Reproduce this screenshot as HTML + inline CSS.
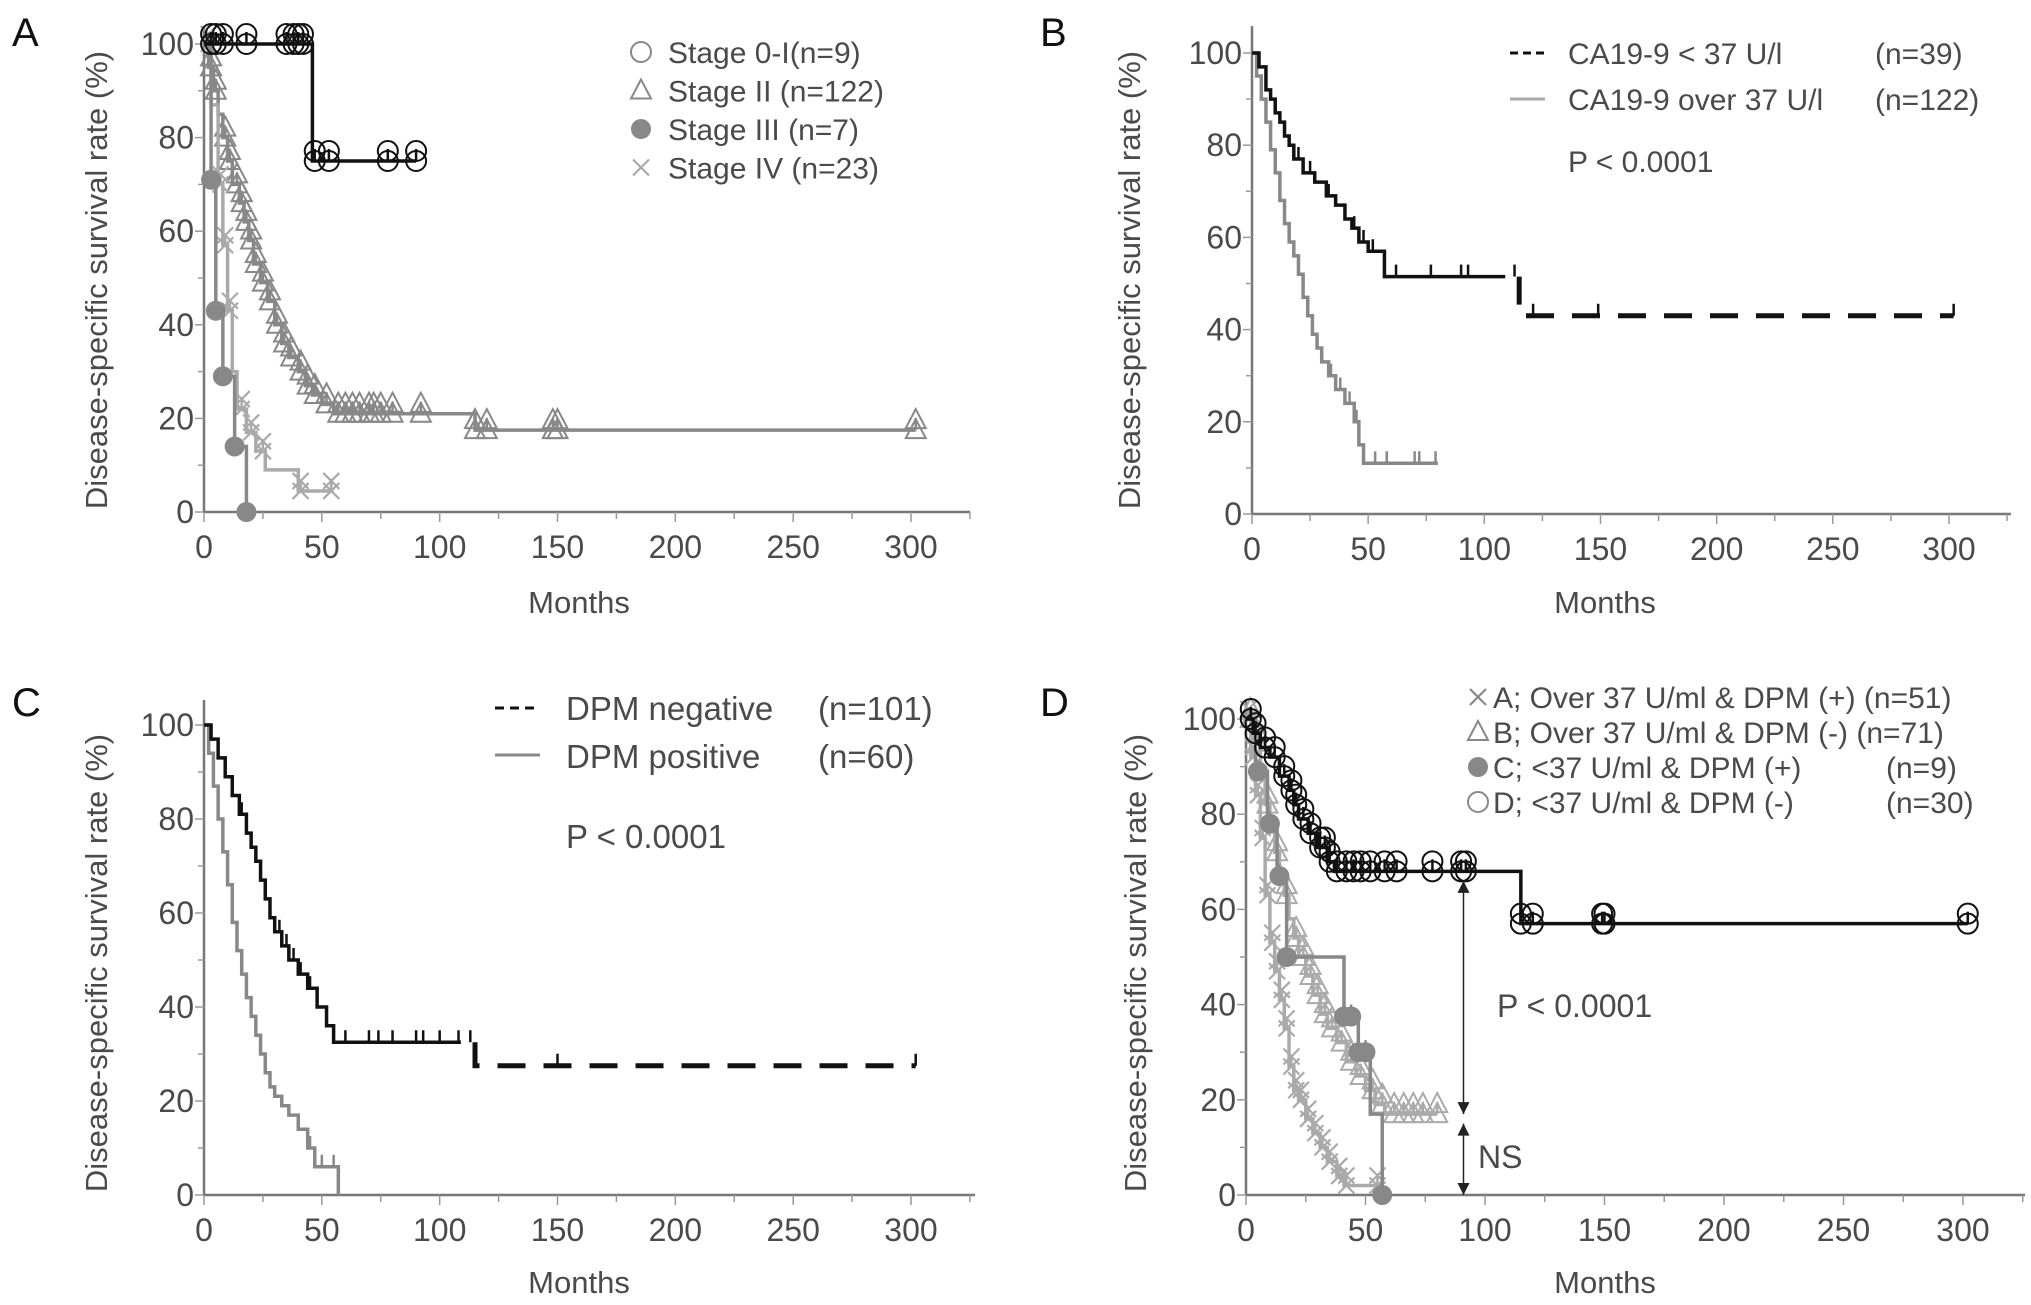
<!DOCTYPE html>
<html><head><meta charset="utf-8"><style>
html,body{margin:0;padding:0;background:#fff;}
svg{display:block;font-family:"Liberation Sans",Arial,sans-serif;}
</style></head><body>
<svg id="fig" width="2031" height="1305" viewBox="0 0 2031 1305" xmlns="http://www.w3.org/2000/svg"></svg>
<script>
// ---------- data (months, survival %) ----------
const xTicks=[0,50,100,150,200,250,300];
const yTicks=[0,20,40,60,80,100];
// Panel A
const aStage0T=[0,46];           const aStage0S=[100,75];   const aStage0End=90;
const aStage0CensT=[3,5,8,18,35,38,40,42,47,53,78,90];
const aStage2T=[0,2,4,6,8,10,12,15,17,19,21,24,27,30,33,36,40,43,46,50,55,115]; 
const aStage2S=[100,95,90,85,80,75,70,66,62,58,53,49,45,40,36,33,30,27,25,23,21,17.5]; const aStage2End=302;
const aStage2CensT=[3,5,9,11,14,16,18,20,22,25,28,31,34,37,41,44,47,52,57,60,63,66,70,72,75,80,92,115,120,148,150,302];
const aStage3T=[0,3,5,8,13,18]; const aStage3S=[100,71,43,29,14,0]; const aStage3End=18;
const aStage4T=[0,3,6,8,10,12,14,18,22,26,40]; const aStage4S=[100,87,70,57,43,30,22,17,13,9,4.5]; const aStage4End=55;
const aStage4CensT=[2,7,9,11,16,20,25,41,54];
// Panel B
const bLowT=[0,3,6,8,10,12,14,16,18,22,27,32,36,40,43,46,50,57,115];
const bLowS=[100,97,92,90,87,85,82,80,77,74,72,69,67,64,62,59,57,51.5,43]; const bLowEnd=302;
const bLowCensT=[20,25,33,44,48,52,62,77,90,93,113,121,149,302];
const bHighT=[0,2,4,6,8,10,12,14,16,18,20,22,24,26,28,30,33,36,40,44,46,48];
const bHighS=[100,95,90,85,79,74,68,63,59,56,52,47,43,39,36,33,30,27,24,20,15,11]; const bHighEnd=80;
const bHighCensT=[30,34,38,42,45,53,58,70,72,79];
// Panel C
const cNegT=[0,3,6,9,12,15,18,20,22,24,26,28,30,33,36,40,44,48,52,55,115];
const cNegS=[100,97,93,89,85,81,77,74,71,67,63,59,56,53,50,47,44,40,36,32.5,27.5]; const cNegEnd=302;
const cNegCensT=[16,32,35,38,41,45,60,70,74,80,90,93,100,108,113,150,302];
const cPosT=[0,2,4,6,8,10,12,14,16,18,20,22,24,26,28,30,33,36,40,44,47,57];
const cPosS=[100,94,87,80,73,66,58,52,47,42,38,34,30,26,23,21,19,17,14,10,6,0]; const cPosEnd=57;
const cPosCensT=[45,50,55];
// Panel D
const dDT=[0,3,6,10,14,18,20,22,26,30,34,37,115]; const dDS=[100,97,94,92,88,85,82,79,76,73,70,68,57]; const dDEnd=302;
const dDCensT=[2,4,8,12,16,19,21,24,27,31,33,35,38,42,45,48,52,58,63,78,90,92,115,120,149,150,302];
const dBT=[0,3,6,8,10,12,14,16,18,20,22,25,28,31,34,38,42,46,50,54,58];
const dBS=[100,95,88,82,77,72,68,63,58,54,50,46,42,38,35,32,28,25,22,19,17]; const dBEnd=80;
const dBCensT=[2,5,9,13,17,21,24,27,30,33,36,40,44,48,53,57,62,66,70,74,80];
const dCT=[0,4,9,13,17,41,47,52,57]; const dCS=[100,89,78,67,50,37.5,30,17,0]; const dCEnd=57;
const dCCensT=[5,10,14,17,41,44,47,50,57];
const dAT=[0,2,4,6,8,10,12,14,16,18,20,22,25,28,31,34,38,41];
const dAS=[100,92,84,75,63,53,47,41,35,27,22,20,16,13,10,7,4,2]; const dAEnd=57;
const dACensT=[1,3,5,7,9,11,13,15,17,19,21,23,26,29,32,35,39,42,55];

// ---------- rendering ----------
const NS='http://www.w3.org/2000/svg';
const svg=document.getElementById('fig');
function mk(tag,attrs,parent){const e=document.createElementNS(NS,tag);for(const k in attrs)e.setAttribute(k,attrs[k]);(parent||svg).appendChild(e);return e;}
const TXT='#4a4a4a', BLK='#111', GRY='#888', LGT='#aaa';

function makeAxes(p,letter,name){
  const g=mk('g',{});
  
  
  p.sx=v=>p.x0+(v/300)*(p.x300-p.x0);
  p.sy=v=>p.y0-(v/100)*(p.y0-p.y100);
  const ax=mk('line',{x1:p.x0,y1:p.y0,x2:p.xEnd,y2:p.y0,stroke:'#777','stroke-width':2.5},g);
  
  
  const ay=mk('line',{x1:p.x0,y1:p.y0,x2:p.x0,y2:p.yTop,stroke:'#777','stroke-width':2.5},g);
  
  
  for(let m=0;m<=325;m+=25){const x=p.sx(m);mk('line',{x1:x,y1:p.y0,x2:x,y2:p.y0+(m%50===0?10:7),stroke:'#999','stroke-width':1.5},g);}
  for(let v=0;v<=100;v+=10){const y=p.sy(v);mk('line',{x1:p.x0-(v%20===0?9:6),y1:y,x2:p.x0,y2:y,stroke:'#999','stroke-width':1.5},g);}
  xTicks.forEach(t=>{const e=mk('text',{x:p.sx(t),y:p.y0+46,'text-anchor':'middle','font-size':32,fill:TXT},g);e.textContent=t;
    
    });
  yTicks.forEach(t=>{const e=mk('text',{x:p.x0-10,y:p.sy(t)+11,'text-anchor':'end','font-size':32,fill:TXT},g);e.textContent=t;
    
    });
  const xt=mk('text',{x:p.mx,y:p.my,'text-anchor':'middle','font-size':31,fill:TXT},g);xt.textContent='Months';
  
  
  const yt=mk('text',{x:0,y:0,'text-anchor':'middle','font-size':31,fill:TXT,transform:`translate(${p.ytx},${p.yty}) rotate(-90)`},g);yt.textContent='Disease-specific survival rate (%)';
  
  
  const lt=mk('text',{x:p.lx,y:p.ly,'font-size':40,fill:'#111'},g);lt.textContent=letter;
  
  
  return g;
}
function stepPath(p,T,S,end){let d=`M${p.sx(T[0])},${p.sy(S[0])}`;for(let i=1;i<T.length;i++){d+=` H${p.sx(T[i])} V${p.sy(S[i])}`;}d+=` H${p.sx(end)}`;return d;}
function survAt(T,S,t){let s=S[0];for(let i=0;i<T.length;i++){if(T[i]<=t)s=S[i];}return s;}
function marker(g,type,x,y,col){
  const r=10;
  if(type==='circle')mk('circle',{cx:x,cy:y,r:r,fill:'none',stroke:col,'stroke-width':2},g);
  else if(type==='fill')mk('circle',{cx:x,cy:y,r:r,fill:col,stroke:'none'},g);
  else if(type==='tri')mk('polygon',{points:`${x},${y-r-1} ${x-r},${y+r-2} ${x+r},${y+r-2}`,fill:'none',stroke:col,'stroke-width':2},g);
  else if(type==='x'){mk('line',{x1:x-8,y1:y-8,x2:x+8,y2:y+8,stroke:col,'stroke-width':2.2},g);mk('line',{x1:x-8,y1:y+8,x2:x+8,y2:y-8,stroke:col,'stroke-width':2.2},g);}
}
function curve(p,T,S,end,cens,col,mtype,name,opts){
  opts=opts||{};
  const g=mk('g',{});
  
  
  const w=opts.w||3.5;
  if(opts.dashFrom!==undefined){
    const cut=opts.dashFrom;
    const T1=[],S1=[],T2=[],S2=[];
    T.forEach((t,i)=>{if(t<cut){T1.push(t);S1.push(S[i]);}else{T2.push(t);S2.push(S[i]);}});
    mk('path',{d:stepPath(p,T1,S1,Math.min(cut-6,end)),fill:'none',stroke:col,'stroke-width':w},g);
    const sc=survAt(T,S,cut-1);
    mk('path',{d:`M${p.sx(cut)},${p.sy(sc)} V${p.sy(S2[0])} H${p.sx(end)}`,fill:'none',stroke:col,'stroke-width':5,'stroke-dasharray':'28,18'},g);
  } else mk('path',{d:stepPath(p,T,S,end),fill:'none',stroke:col,'stroke-width':w},g);
  (cens||[]).forEach(t=>{
    const s=survAt(T,S,t);const x=p.sx(t),y=p.sy(s);
    mk('line',{x1:x,y1:y,x2:x,y2:y-12,stroke:col,'stroke-width':2.5},g);
    if(mtype){marker(g,mtype,x,y,col);if(mtype!=='fill')marker(g,mtype,x,y-10,col);}
  });
  return g;
}
function text(x,y,s,size,name,anchor){const e=mk('text',{x:x,y:y,'font-size':size,fill:TXT,'text-anchor':anchor||'start'});e.textContent=s;
  
  return e;}

// Panel A
const pA={x0:204,x300:911,xEnd:970,y0:512,y100:44,yTop:26,mx:579,my:613,ytx:107,yty:280,lx:12,ly:46};
makeAxes(pA,'A','panel-a-axes');
curve(pA,aStage2T,aStage2S,aStage2End,aStage2CensT,GRY,'tri','stage-ii-curve');
curve(pA,aStage4T,aStage4S,aStage4End,aStage4CensT,LGT,'x','stage-iv-curve');
curve(pA,aStage3T,aStage3S,aStage3End,[3,5,8,13,18],GRY,'fill','stage-iii-curve');
curve(pA,aStage0T,aStage0S,aStage0End,aStage0CensT,BLK,'circle','stage-0-i-curve');
[['circle','Stage 0-I(n=9)',GRY],['tri','Stage II  (n=122)',GRY],['fill','Stage III (n=7)',GRY],['x','Stage IV (n=23)',LGT]].forEach((l,i)=>{
  const y=52+i*38.5;const g=mk('g',{});
  marker(g,l[0],641,y,l[2]);const t=text(668,y+11,l[1],30,'legend-label');g.appendChild(t);});

// Panel B
const pB={x0:1252,x300:1949,xEnd:2011,y0:514,y100:53,yTop:26,mx:1605,my:613,ytx:1140,yty:280,lx:1040,ly:46};
makeAxes(pB,'B','panel-b-axes');
curve(pB,bHighT,bHighS,bHighEnd,bHighCensT,GRY,null,'ca19-9-high-curve');
curve(pB,bLowT,bLowS,bLowEnd,bLowCensT,BLK,null,'ca19-9-low-curve',{dashFrom:115});
mk('line',{x1:1510,y1:53,x2:1545,y2:53,stroke:BLK,'stroke-width':3,'stroke-dasharray':'8,5'});
mk('line',{x1:1510,y1:99,x2:1545,y2:99,stroke:LGT,'stroke-width':3});
text(1568,64,'CA19-9 < 37 U/l',30,'legend-label');text(1875,64,'(n=39)',30,'legend-n');
text(1568,110,'CA19-9 over 37 U/l',30,'legend-label');text(1875,110,'(n=122)',30,'legend-n');
text(1568,172,'P < 0.0001',30,'p-value');

// Panel C
const pC={x0:204,x300:911,xEnd:975,y0:1195,y100:725,yTop:700,mx:579,my:1293,ytx:107,yty:963,lx:12,ly:716};
makeAxes(pC,'C','panel-c-axes');
curve(pC,cPosT,cPosS,cPosEnd,cPosCensT,GRY,null,'dpm-positive-curve');
curve(pC,cNegT,cNegS,cNegEnd,cNegCensT,BLK,null,'dpm-negative-curve',{dashFrom:115});
mk('line',{x1:495,y1:708,x2:540,y2:708,stroke:BLK,'stroke-width':3,'stroke-dasharray':'9,6'});
mk('line',{x1:495,y1:755,x2:540,y2:755,stroke:GRY,'stroke-width':3});
text(566,720,'DPM negative',33,'legend-label');text(818,720,'(n=101)',33,'legend-n');
text(566,768,'DPM positive',33,'legend-label');text(818,768,'(n=60)',33,'legend-n');
text(566,848,'P < 0.0001',33,'p-value');

// Panel D
const pD={x0:1246,x300:1963,xEnd:2025,y0:1195,y100:719,yTop:700,mx:1605,my:1293,ytx:1146,yty:963,lx:1040,ly:716};
makeAxes(pD,'D','panel-d-axes');
curve(pD,dAT,dAS,dAEnd,dACensT,LGT,'x','group-a-curve');
curve(pD,dBT,dBS,dBEnd,dBCensT,LGT,'tri','group-b-curve');
curve(pD,dCT,dCS,dCEnd,dCCensT,GRY,'fill','group-c-curve');
curve(pD,dDT,dDS,dDEnd,dDCensT,BLK,'circle','group-d-curve');
[['x','A; Over 37 U/ml & DPM (+) (n=51)',GRY],['tri','B; Over 37 U/ml & DPM (-)  (n=71)',GRY],['fill','C; <37 U/ml & DPM (+)',GRY],['circle','D; <37 U/ml & DPM (-)',GRY]].forEach((l,i)=>{
  const y=697+i*35;const g=mk('g',{});
  marker(g,l[0],1478,y,l[2]);const t=text(1493,y+11,l[1],30,'legend-label');g.appendChild(t);});
text(1886,778,'(n=9)',30,'legend-n');text(1886,813,'(n=30)',30,'legend-n');
// arrows
(function(){const x=pD.sx(91);const g=mk('g',{});
  const seg=(a,b)=>{const ya=pD.sy(a),yb=pD.sy(b);mk('line',{x1:x,y1:ya,x2:x,y2:yb,stroke:'#222','stroke-width':1.5},g);
    mk('polygon',{points:`${x},${ya} ${x-6},${ya+12} ${x+6},${ya+12}`,fill:'#222'},g);
    mk('polygon',{points:`${x},${yb} ${x-6},${yb-12} ${x+6},${yb-12}`,fill:'#222'},g);};
  seg(66,17);seg(15,0);})();
text(1497,1017,'P < 0.0001',32,'p-value');
text(1478,1168,'NS',32,'ns-label');
</script>
</body></html>
